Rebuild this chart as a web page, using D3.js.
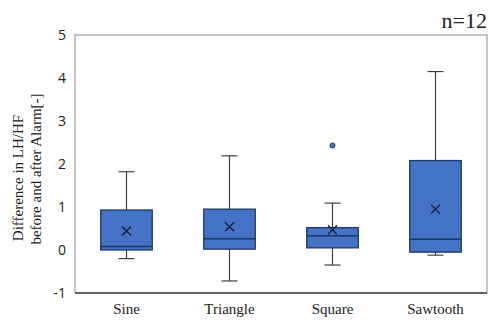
<!DOCTYPE html>
<html>
<head>
<meta charset="utf-8">
<script src="https://cdn.jsdelivr.net/npm/d3@7.9.0/dist/d3.min.js"></script>
<style>
  body { margin: 0; background: #fff; }
  svg { display: block; }
</style>
</head>
<body>
<svg id="chart" width="489" height="320"></svg>
<script>
const categories = ['Sine', 'Triangle', 'Square', 'Sawtooth'];
const whiskerLow = [-0.2, -0.72, -0.35, -0.12];
const q1 = [0.0, 0.02, 0.05, -0.05];
const median = [0.08, 0.26, 0.33, 0.25];
const q3 = [0.93, 0.95, 0.52, 2.08];
const whiskerHigh = [1.82, 2.19, 1.09, 4.15];
const means = [0.44, 0.54, 0.47, 0.95];
const outliers = [[], [], [2.43], []];
const yTicks = [-1, 0, 1, 2, 3, 4, 5];

const margin = { top: 35, right: 2, bottom: 27, left: 75 };
const width = 489, height = 320;
const svg = d3.select('#chart');

const x = d3.scaleBand()
  .domain(categories)
  .range([margin.left, width - margin.right]);
const y = d3.scaleLinear()
  .domain([-1, 5])
  .range([height - margin.bottom, margin.top]);

// plot frame
svg.append('rect')
  .attr('x', margin.left)
  .attr('y', margin.top)
  .attr('width', width - margin.right - margin.left)
  .attr('height', height - margin.bottom - margin.top)
  .attr('fill', 'none')
  .attr('stroke', '#8c8c8c')
  .attr('stroke-width', 1);
svg.append('line')
  .attr('x1', margin.left).attr('x2', width - margin.right)
  .attr('y1', y(-1)).attr('y2', y(-1))
  .attr('stroke', '#404040').attr('stroke-width', 1.5);

// y axis labels
const yAxis = d3.axisLeft(y).tickValues(yTicks).tickSize(0).tickPadding(9)
  .tickFormat((d) => String(d));
const yg = svg.append('g')
  .attr('transform', `translate(${margin.left},0)`)
  .call(yAxis);
yg.select('.domain').remove();
yg.selectAll('text')
  .attr('font-family', 'Open Sans, DejaVu Sans, sans-serif')
  .attr('font-size', 14)
  .attr('fill', '#222');

// x axis labels
const xAxis = d3.axisBottom(x).tickSize(0).tickPadding(10);
const xg = svg.append('g')
  .attr('transform', `translate(0,${y(-1)})`)
  .call(xAxis);
xg.select('.domain').remove();
xg.selectAll('text')
  .attr('font-family', 'Liberation Serif, Times New Roman, serif')
  .attr('font-size', 15)
  .attr('fill', '#222');

const boxW = x.bandwidth() * 0.5;
const capW = 16;

categories.forEach((c, i) => {
  const cx = x(c) + x.bandwidth() / 2;
  const g = svg.append('g');

  // whiskers
  g.append('line')
    .attr('x1', cx).attr('x2', cx)
    .attr('y1', y(whiskerHigh[i])).attr('y2', y(q3[i]))
    .attr('stroke', '#404040').attr('stroke-width', 1.2);
  g.append('line')
    .attr('x1', cx).attr('x2', cx)
    .attr('y1', y(q1[i])).attr('y2', y(whiskerLow[i]))
    .attr('stroke', '#404040').attr('stroke-width', 1.2);
  [whiskerHigh[i], whiskerLow[i]].forEach((v) => {
    g.append('line')
      .attr('x1', cx - capW / 2).attr('x2', cx + capW / 2)
      .attr('y1', y(v)).attr('y2', y(v))
      .attr('stroke', '#404040').attr('stroke-width', 1.2);
  });

  // box
  g.append('rect')
    .attr('x', cx - boxW / 2)
    .attr('y', y(q3[i]))
    .attr('width', boxW)
    .attr('height', y(q1[i]) - y(q3[i]))
    .attr('fill', '#4472c4')
    .attr('stroke', '#1f3864')
    .attr('stroke-width', 1.3);

  // median
  g.append('line')
    .attr('x1', cx - boxW / 2).attr('x2', cx + boxW / 2)
    .attr('y1', y(median[i])).attr('y2', y(median[i]))
    .attr('stroke', '#1f3864').attr('stroke-width', 1.5);

  // mean marker
  const m = 4.5;
  const my = y(means[i]);
  g.append('path')
    .attr('d', `M${cx - m},${my - m}L${cx + m},${my + m}M${cx - m},${my + m}L${cx + m},${my - m}`)
    .attr('stroke', '#1a1a2e').attr('stroke-width', 1.3);

  // outliers
  outliers[i].forEach((v) => {
    g.append('circle')
      .attr('cx', cx).attr('cy', y(v)).attr('r', 2.5)
      .attr('fill', '#4472c4').attr('stroke', '#1f3864').attr('stroke-width', 1);
  });
});

// y title
const yt = svg.append('text')
  .attr('transform', 'translate(0,170) rotate(-90)')
  .attr('text-anchor', 'middle')
  .attr('font-family', 'Liberation Serif, Times New Roman, serif')
  .attr('font-size', 15)
  .attr('fill', '#222');
yt.append('tspan').attr('x', -8).attr('y', 23).text('Difference in LH/HF');
yt.append('tspan').attr('x', 1).attr('y', 41).text('before and after Alarm[-]');

// n label
svg.append('text')
  .attr('x', 487).attr('y', 28)
  .attr('text-anchor', 'end')
  .attr('font-family', 'Liberation Serif, Times New Roman, serif')
  .attr('font-size', 22)
  .attr('fill', '#222')
  .text('n=12');
</script>
</body>
</html>
